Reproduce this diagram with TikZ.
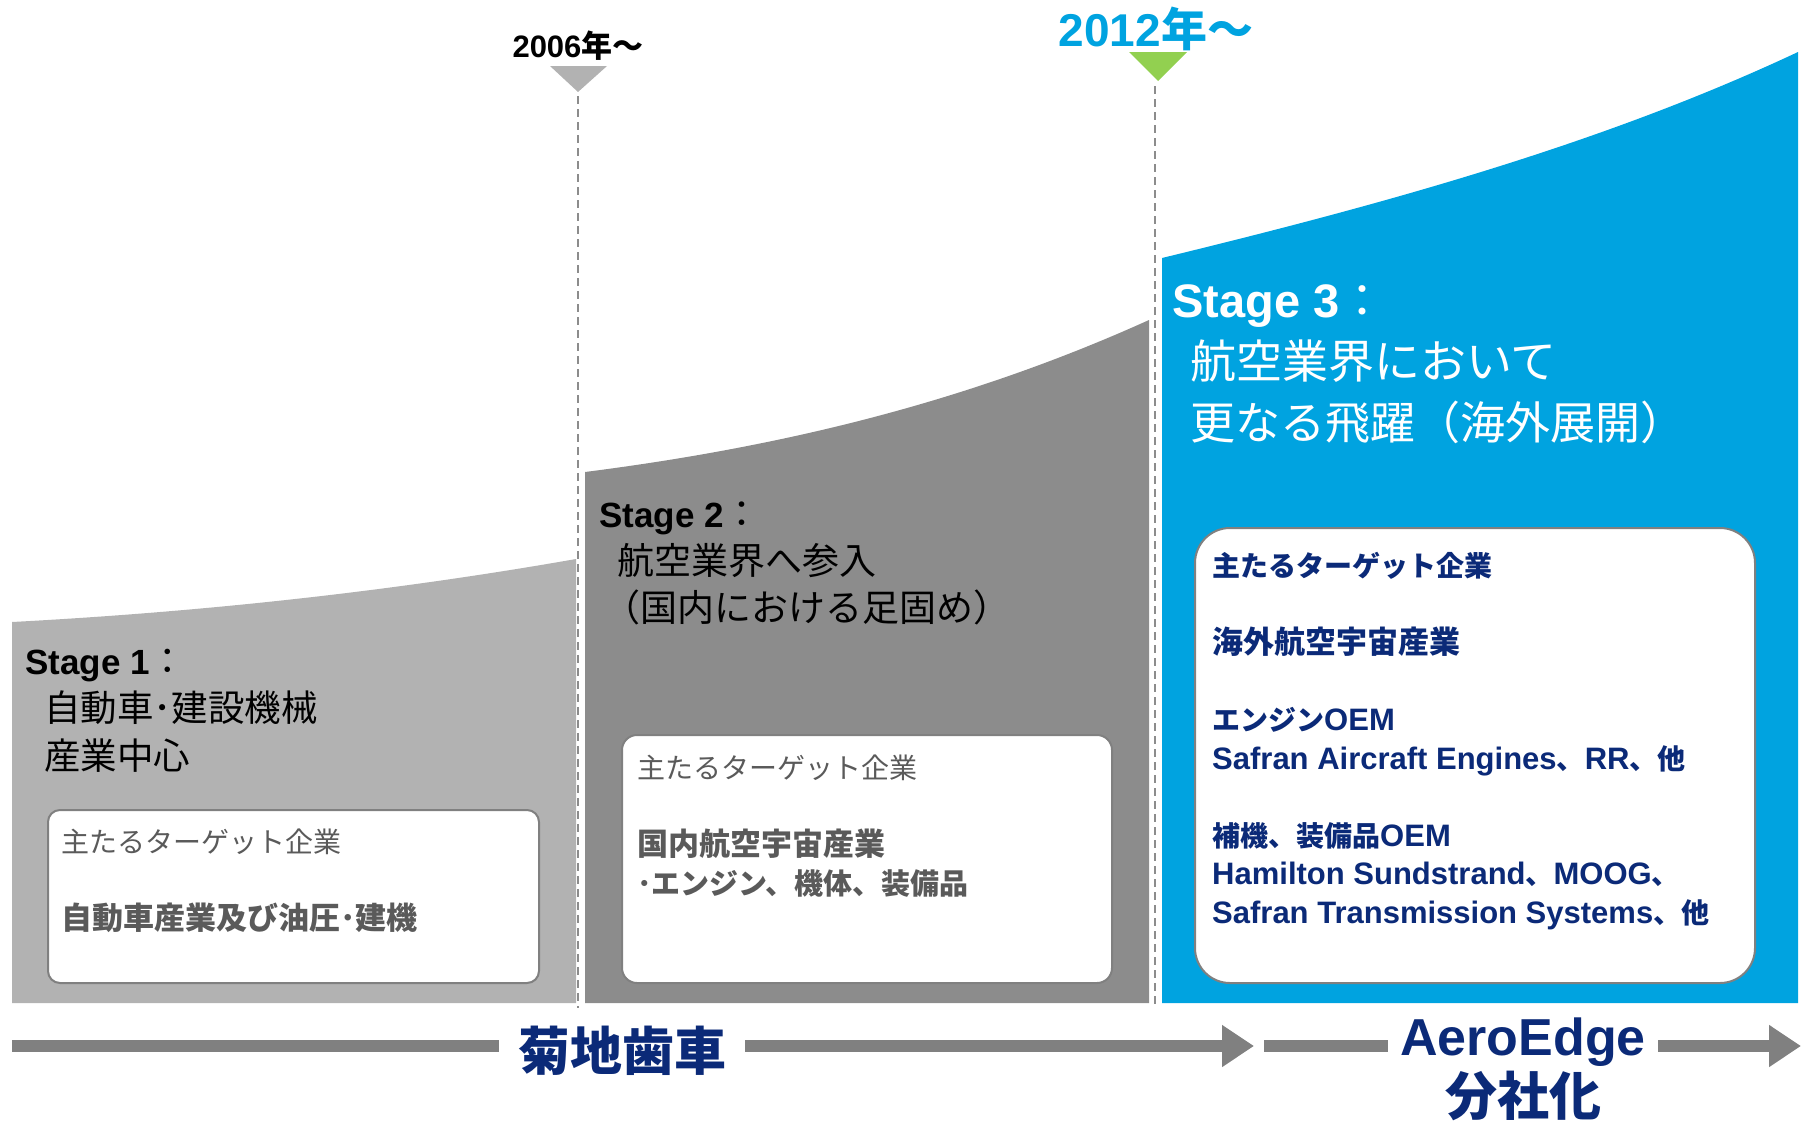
\documentclass[tikz,border=0pt]{standalone}
\usepackage{fontspec}
\setmainfont{Noto Sans CJK JP}
\newfontfamily\en{Liberation Sans}
\usetikzlibrary{arrows.meta,positioning}
\definecolor{stagea}{HTML}{B2B2B2}
\definecolor{stageb}{HTML}{8C8C8C}
\definecolor{stagec}{HTML}{00A3E0}
\definecolor{navy}{HTML}{0B2A78}
\definecolor{textgray}{HTML}{5A5A5A}
\definecolor{marker}{HTML}{92D050}
\definecolor{bargray}{HTML}{808080}
\newcommand{\fs}[2]{\fontsize{#1}{#2}\selectfont}
\newcommand{\lat}[1]{{\en\fs{31}{38.5}#1}}

\begin{document}
\begin{tikzpicture}[x=1pt,y=-1pt,>={Triangle[length=32pt,width=40pt]}]
  \tikzstyle{target}=[draw=bargray,line width=2pt,fill=white,inner sep=0pt]
  \tikzstyle{title}=[anchor=base west,align=left,inner sep=0pt]
  \tikzstyle{bar}=[bargray,line width=12pt]
  \tikzstyle{period}=[draw=stageb,line width=1.5pt,dash pattern=on 8pt off 5pt]

  \useasboundingbox (0,0) rectangle (1807,1128);

  % the three stages
  \fill[stagea] (12,622) .. controls (200,612) and (388,592) .. (576,559)
    -- (576,1003) -- (12,1003) -- cycle;
  \fill[stageb] (585,472) .. controls (773,448) and (961,405) .. (1149,320)
    -- (1149,1003) -- (585,1003) -- cycle;
  \fill[stagec] (1162,258) .. controls (1380,205) and (1600,145) .. (1798,52)
    -- (1798,1003) -- (1162,1003) -- cycle;

  % year markers
  \fill[stagea] (550,66) -- (607,66) -- (578,92) -- cycle;
  \fill[marker] (1129,52) -- (1187,52) -- (1158,81) -- cycle;
  \draw[period] (578,96) -- (578,1008);
  \draw[period] (1155,86) -- (1155,1008);
  \node[font=\bfseries\fs{31}{36}] (yearA) at (578,46) {{\en 2006}年～};
  \node[font=\bfseries\fs{46}{52},text=stagec] (yearB) at (1156,29) {{\en 2012}年～};

  % stage titles (base = last line)
  \node[title,font=\fs{36.5}{47.5}] (stageA) at (25,769)
    {{\en\bfseries\fs{35}{47.5}Stage 1}：\\
     \hspace*{19pt}自動車･建設機械\\
     \hspace*{19pt}産業中心};
  \node[title,font=\fs{37}{47}] (stageB) at (599,621)
    {{\en\bfseries\fs{35}{47}Stage 2}：\\
     \hspace*{18pt}航空業界へ参入\\
     \hspace*{4pt}（国内における足固め）};
  \node[title,font=\fs{46}{61},text=white] (stageC) at (1172,439)
    {{\en\bfseries\fs{47}{61}Stage 3}：\\
     \hspace*{18pt}航空業界において\\
     \hspace*{18pt}\fs{45}{61}更なる飛躍（海外展開）};

  % target boxes
  \node[target,rounded corners=12pt,minimum width=491pt,minimum height=173pt]
    (boxA) at (293.5,896.5) {};
  \node[target,rounded corners=15pt,minimum width=490pt,minimum height=248pt]
    (boxB) at (867,859) {};
  \node[target,rounded corners=35pt,minimum width=560pt,minimum height=455pt]
    (boxC) at (1475,755.5) {};

  \node[title,font=\fs{28}{38.5},text=textgray] (listA) at (61,929)
    {主たるターゲット企業\\[38.5pt]
     \bfseries\fs{31}{38.5}自動車産業及び油圧･建機};
  \node[title,font=\fs{28}{38.5},text=textgray] (listB) at (637,894)
    {主たるターゲット企業\\[38.5pt]
     \bfseries\fs{31}{38.5}国内航空宇宙産業\\
     \bfseries\fs{29}{38.5}･エンジン、機体、装備品};
  \node[title,font=\bfseries\fs{28}{38.5},text=navy] (listC) at (1212,923)
    {主たるターゲット企業\\[38.5pt]
     \fs{31}{38.5}海外航空宇宙産業\\[38.5pt]
     \fs{28}{38.5}エンジン\lat{OEM}\\
     \lat{Safran Aircraft Engines}、\lat{RR}、他\\[38.5pt]
     補機、装備品\lat{OEM}\\
     \lat{Hamilton Sundstrand}、\lat{MOOG}、\\
     \lat{Safran Transmission Systems}、他};

  % company timeline
  \node[font=\bfseries\fs{52}{60},text=navy,inner xsep=19pt] (kikuchi) at (622,1051) {菊地歯車};
  \node[font=\bfseries\fs{52}{60},text=navy,align=center,inner xsep=12pt] (aero) at (1523,1069)
    {{\en AeroEdge}\\分社化};
  \coordinate (start) at (12,1046);
  \coordinate (tipA) at (1254,1046);
  \coordinate (tailB) at (1264,1046);
  \coordinate (tipB) at (1801,1046);
  \draw[bar] (start) -- (start -| kikuchi.west);
  \draw[bar,->] (kikuchi.east |- start) -- (tipA);
  \draw[bar] (tailB) -- (tailB -| aero.west);
  \draw[bar,->] (aero.east |- start) -- (tipB);
\end{tikzpicture}
\end{document}
